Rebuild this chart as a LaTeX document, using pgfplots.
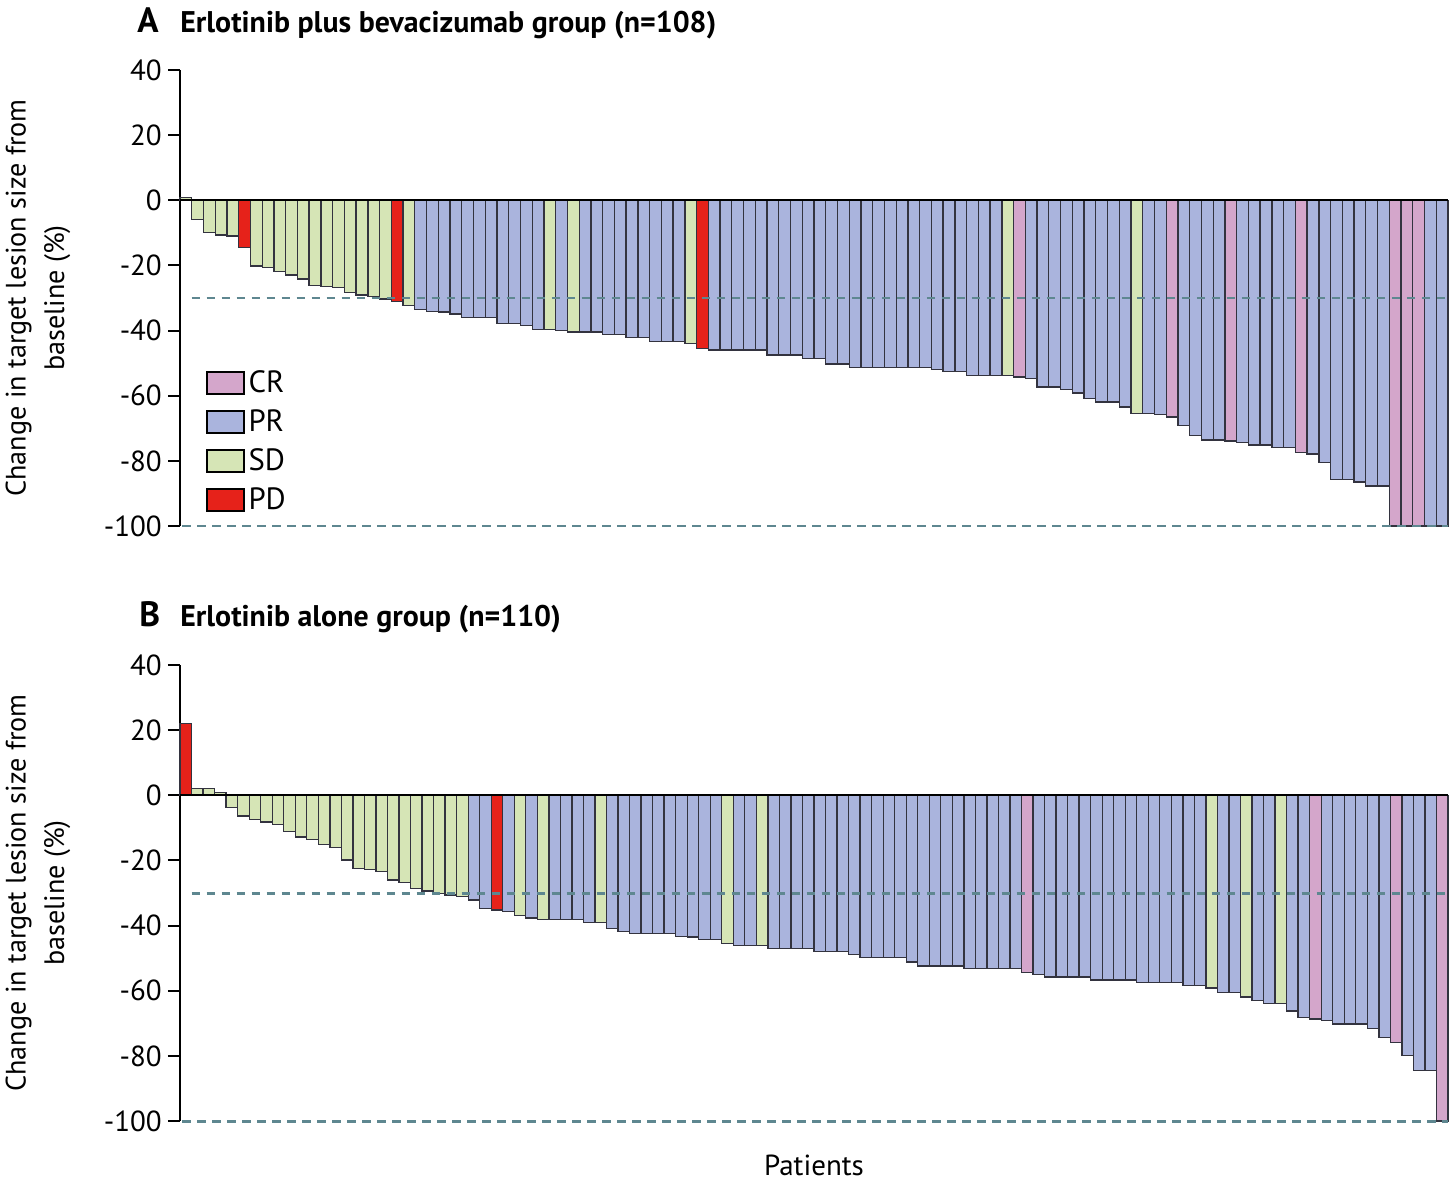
\documentclass[border=0pt]{standalone}
\usepackage{fontspec}
\setmainfont{PT Sans}
\usepackage{pgfplots}
\usepackage{pgfplotstable}
\pgfplotsset{compat=1.18}

\definecolor{crcol}{HTML}{D4A6CB}
\definecolor{prcol}{HTML}{AAB4DD}
\definecolor{sdcol}{HTML}{D6E5B6}
\definecolor{pdcol}{HTML}{E6221A}
\definecolor{refcol}{HTML}{5E8790}
\definecolor{edgecol}{HTML}{33333F}

% best change per patient (%), response code: 1 = CR, 2 = PR, 3 = SD, 4 = PD
\pgfplotstableread[row sep=\\]{
v c\\
0.8 3\\ -6 3\\ -9.8 3\\ -10.7 3\\ -11 3\\ -14.4 4\\
-20.2 3\\ -20.6 3\\ -21.9 3\\ -22.9 3\\ -24.2 3\\ -26.2 3\\ -26.5 3\\ -26.7 3\\ -28.3 3\\ -29.1 3\\ -29.6 3\\ -30.3 3\\
-31 4\\ -32.3 3\\
-33.6 2\\ -34.2 2\\ -34.3 2\\ -34.9 2\\ -35.9 2\\ -35.9 2\\ -35.9 2\\ -37.9 2\\ -37.9 2\\ -38.4 2\\ -39.7 2\\
-39.7 3\\ -40 2\\ -40.4 3\\
-40.4 2\\ -40.4 2\\ -41.1 2\\ -41.1 2\\ -42.1 2\\ -42.1 2\\ -43.3 2\\ -43.3 2\\ -43.3 2\\
-44 3\\ -45.5 4\\
-46 2\\ -46 2\\ -46 2\\ -46 2\\ -46 2\\ -47.5 2\\ -47.5 2\\ -47.5 2\\ -48.5 2\\ -48.5 2\\
-50.3 2\\ -50.3 2\\ -51.4 2\\ -51.4 2\\ -51.4 2\\ -51.4 2\\ -51.4 2\\ -51.4 2\\ -51.4 2\\ -51.9 2\\
-52.6 2\\ -52.6 2\\ -53.8 2\\ -53.8 2\\ -53.8 2\\
-53.8 3\\ -54.3 1\\
-54.8 2\\ -57.3 2\\ -57.3 2\\ -58.1 2\\ -59.2 2\\ -60.9 2\\ -61.9 2\\ -61.9 2\\ -63.5 2\\
-65.5 3\\ -65.5 2\\ -65.8 2\\ -66.5 1\\
-69.1 2\\ -72.3 2\\ -73.6 2\\ -73.6 2\\ -73.9 1\\
-74.4 2\\ -75.1 2\\ -75.1 2\\ -75.9 2\\ -75.9 2\\ -77.4 1\\
-77.9 2\\ -80.6 2\\ -85.8 2\\ -85.8 2\\ -86.5 2\\ -87.7 2\\ -87.7 2\\
-100 1\\ -100 1\\ -100 1\\ -100 2\\ -100 2\\
}\tabA

\pgfplotstableread[row sep=\\]{
v c\\
22 4\\ 2.1 3\\ 2.1 3\\ 0.9 3\\
-3.7 3\\ -6.4 3\\ -7.4 3\\ -8.2 3\\ -9.0 3\\ -11.1 3\\ -12.8 3\\ -13.6 3\\ -15.1 3\\ -16.1 3\\ -19.9 3\\
-22.5 3\\ -22.7 3\\ -23.5 3\\ -26.0 3\\ -26.7 3\\ -28.6 3\\ -29.4 3\\ -30.1 3\\ -30.6 3\\ -31.1 3\\
-32.1 2\\ -34.8 2\\ -35.2 4\\ -35.7 2\\ -37.0 3\\ -37.7 2\\ -38.2 3\\
-38.2 2\\ -38.2 2\\ -38.2 2\\ -39.0 2\\ -39.1 3\\
-40.9 2\\ -41.8 2\\ -42.5 2\\ -42.5 2\\ -42.5 2\\ -42.5 2\\ -43.3 2\\ -43.5 2\\ -44.3 2\\ -44.3 2\\
-45.6 3\\ -46.1 2\\ -46.1 2\\ -46.1 3\\
-47.0 2\\ -47.0 2\\ -47.0 2\\ -47.0 2\\ -47.9 2\\ -47.9 2\\ -47.9 2\\ -48.9 2\\ -49.7 2\\ -49.7 2\\ -49.7 2\\
-49.7 2\\ -51.2 2\\ -52.4 2\\ -52.4 2\\ -52.4 2\\ -52.4 2\\ -53.2 2\\ -53.2 2\\ -53.2 2\\ -53.2 2\\ -53.2 2\\
-54.5 1\\
-55.0 2\\ -55.8 2\\ -55.8 2\\ -55.8 2\\ -55.8 2\\ -56.7 2\\ -56.7 2\\ -56.7 2\\ -56.7 2\\
-57.5 2\\ -57.5 2\\ -57.5 2\\ -57.5 2\\ -58.5 2\\ -58.5 2\\
-59.2 3\\ -60.6 2\\ -60.6 2\\ -61.9 3\\ -62.9 2\\ -63.9 2\\ -63.9 3\\ -66.2 2\\ -68.2 2\\ -68.7 1\\
-69.2 2\\ -70.2 2\\ -70.2 2\\ -70.2 2\\ -71.7 2\\ -74.3 2\\ -76.0 1\\
-79.9 2\\ -84.5 2\\ -84.5 2\\ -100 1\\
}\tabB

\tikzset{refline/.style={refcol, line width=1.7pt, dash pattern=on 0.17cm off 0.13cm}}

\pgfplotsset{
  boxlegend/.style={legend image code/.code={%
    \draw[##1, line width=1.2pt, draw=black] (0cm,-0.22cm) rectangle (0.74cm,0.22cm);}},
  waterfall/.style={
    scale only axis,
    width=25.36cm, height=9.12cm,
    ymin=-100, ymax=40,
    ytick={-100,-80,...,40},
    axis y line*=left,
    axis x line=none,
    xtick=\empty,
    enlargelimits=false,
    y axis line style={line width=1.4pt},
    major tick length=0.24cm,
    tick align=outside,
    ytick style={line width=1.2pt, black},
    yticklabel style={font=\fontsize{16.5}{19}\selectfont, /pgf/number format/assume math mode=true},
    every axis y label/.style={at={(axis description cs:-0.112,0.5)}, rotate=90,
      anchor=center, align=center, font=\fontsize{16}{22}\selectfont},
    ylabel={Change in target lesion size from\\baseline (\%)},
    clip=false,
    every axis plot/.append style={ybar, bar width=1, bar shift=0pt,
      draw=edgecol, line width=0.75pt, boxlegend},
  },
  cat/.style={restrict expr to domain={\thisrow{c}}{#1:#1}},
}

\begin{document}
\begin{tikzpicture}
\useasboundingbox (0,0) rectangle (29.06cm,-23.64cm);

% panel A
\node[anchor=base west, inner sep=0pt, font=\fontsize{20}{24}\selectfont\bfseries] at (2.74cm,-0.64cm) {A};
\node[anchor=base west, inner sep=0pt, font=\fontsize{17}{20}\selectfont\bfseries] at (3.6cm,-0.64cm) {Erlotinib plus bevacizumab group (n=108)};
\begin{axis}[waterfall, at={(3.6cm,-10.52cm)}, anchor=south west,
  xmin=0.5, xmax=108.5,
  legend style={draw=none, fill=none, at={(axis description cs:0.016,0.357)},
    anchor=north west, font=\fontsize{17.5}{20}\selectfont, row sep=0.15cm},
  legend cell align=left]
\addplot[fill=crcol, cat=1] table[x expr=\coordindex+1, y=v] {\tabA};
\addplot[fill=prcol, cat=2] table[x expr=\coordindex+1, y=v] {\tabA};
\addplot[fill=sdcol, cat=3] table[x expr=\coordindex+1, y=v] {\tabA};
\addplot[fill=pdcol, cat=4] table[x expr=\coordindex+1, y=v] {\tabA};
\legend{CR, PR, SD, PD}
\draw[black, line width=1.1pt] (axis cs:0.5,0) -- (axis cs:108.5,0);
\draw[refline] (axis cs:1.5,-30) -- (axis cs:108.5,-30);
\draw[refline] (axis cs:0.7,-100) -- (axis cs:108.5,-100);
\end{axis}

% panel B
\node[anchor=base west, inner sep=0pt, font=\fontsize{20}{24}\selectfont\bfseries] at (2.78cm,-12.52cm) {B};
\node[anchor=base west, inner sep=0pt, font=\fontsize{17}{20}\selectfont\bfseries] at (3.6cm,-12.52cm) {Erlotinib alone group (n=110)};
\begin{axis}[waterfall, at={(3.6cm,-22.42cm)}, anchor=south west,
  xmin=0.5, xmax=110.5]
\addplot[fill=crcol, cat=1] table[x expr=\coordindex+1, y=v] {\tabB};
\addplot[fill=prcol, cat=2] table[x expr=\coordindex+1, y=v] {\tabB};
\addplot[fill=sdcol, cat=3] table[x expr=\coordindex+1, y=v] {\tabB};
\addplot[fill=pdcol, cat=4] table[x expr=\coordindex+1, y=v] {\tabB};
\draw[black, line width=1.1pt] (axis cs:0.5,0) -- (axis cs:110.5,0);
\draw[refline] (axis cs:1.5,-30) -- (axis cs:110.5,-30);
\draw[refline] (axis cs:0.7,-100) -- (axis cs:110.5,-100);
\end{axis}

\node[font=\fontsize{16.5}{19}\selectfont] at (16.28cm,-23.3cm) {Patients};
\end{tikzpicture}
\end{document}
